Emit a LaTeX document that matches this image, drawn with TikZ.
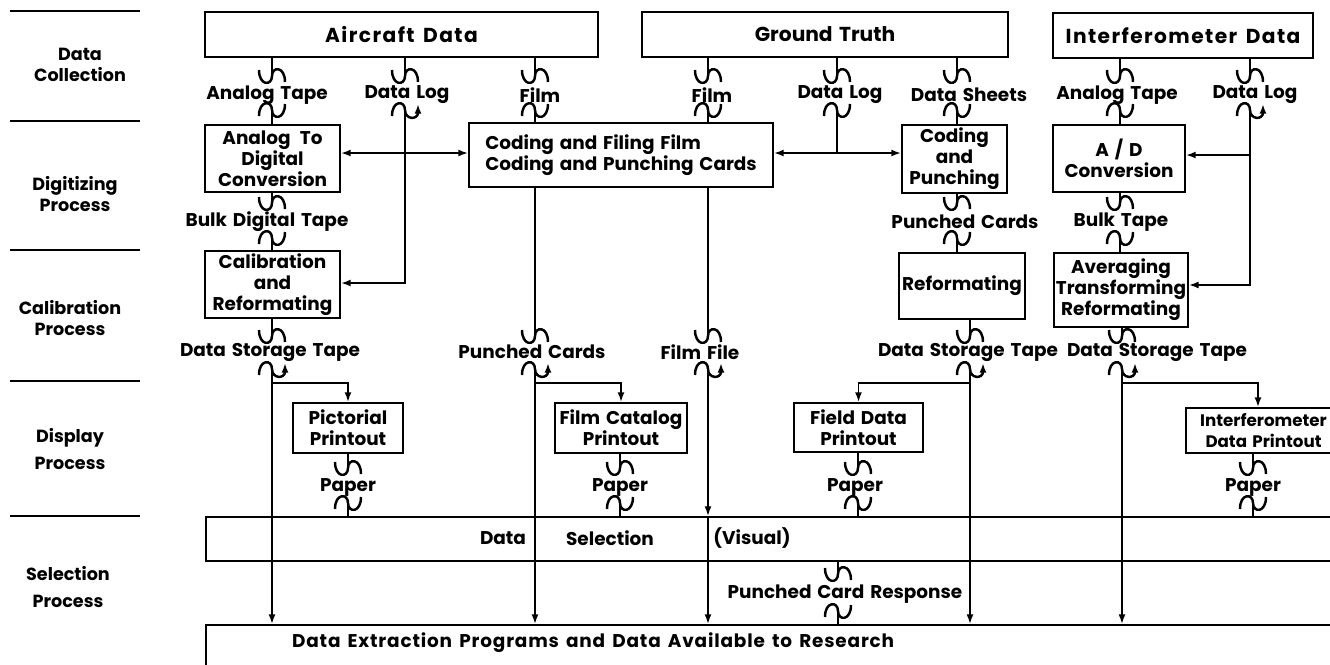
\documentclass[tikz,border=0pt]{standalone}
\usepackage{fontspec}
\setmainfont{Poppins}[WordSpace=1.5]
\usetikzlibrary{arrows.meta,positioning}
\tikzset{
  box/.style={draw, line width=1.2pt, inner sep=1pt, align=center, font=\fontsize{10.5pt}{12pt}\selectfont\bfseries},
  wide/.style={font=\fontsize{11.5pt}{13pt}\selectfont\bfseries\addfontfeature{LetterSpace=7}},
  stage/.style={align=center, font=\fontsize{10pt}{12pt}\selectfont\bfseries},
  medium/.style={inner sep=1pt, font=\fontsize{10.5pt}{12pt}\selectfont\bfseries},
  link/.style={line width=1pt},
  flow/.style={line width=1pt, -{Latex[length=5.5pt,width=4pt]}},
  both/.style={line width=1pt, {Latex[length=5.5pt,width=4pt]}-{Latex[length=5.5pt,width=4pt]}},
  rule/.style={line width=1.3pt},
  wig/.pic={\draw[line width=1.4pt] (-13,-6) .. controls (-13,10) and (0,10) .. (0,0) .. controls (0,-10) and (13,-10) .. (13,6);},
  wigb/.pic={\draw[line width=1.4pt] (-13,6) .. controls (-13,-10) and (0,-10) .. (0,0) .. controls (0,10) and (13,10) .. (13,-6);}
}

\begin{document}
\begin{tikzpicture}[x=0.02cm, y=-0.02cm]
  \useasboundingbox (0,0) rectangle (1330,664);
  \clip (0,0) rectangle (1330,664);

  % stages on the left
  \draw[rule] (10,11) -- (140,11);
  \draw[rule] (10,121) -- (140,121);
  \draw[rule] (10,250) -- (140,250);
  \draw[rule] (10,381) -- (140,381);
  \draw[rule] (10,516) -- (140,516);
  \node[stage] (st1) at (80,65) {Data\\Collection};
  \node[stage] (st2) at (75,194) {Digitizing\\Process};
  \node[stage] (st3) at (70,318) {Calibration\\Process};
  \node[stage] (st4) at (70,449) {Display\\[3pt]Process};
  \node[stage] (st5) at (68,587) {Selection\\[3pt]Process};

  % sources
  \node[box, wide, minimum width=7.86cm, minimum height=0.9cm] (aircraft) at (401.5,34.5) {Aircraft Data};
  \node[box, minimum width=7.32cm, minimum height=0.9cm, font=\fontsize{11.5pt}{13pt}\selectfont\bfseries] (ground) at (825,34.5) {Ground Truth};
  \node[box, wide, minimum width=5.2cm, minimum height=0.9cm] (interf) at (1183,35.5) {Interferometer Data};

  % digitizing
  \node[box, minimum width=2.7cm, minimum height=1.34cm] (atod) at (272.5,158.5) {Analog\enspace To\\Digital\\Conversion};
  \node[box, minimum width=6.08cm, minimum height=1.28cm, align=left] (coding) at (621,155) {Coding and Filing Film\\Coding and Punching Cards};
  \node[box, minimum width=2.1cm, minimum height=1.36cm] (punching) at (954.5,159) {Coding\\and\\Punching};
  \node[box, minimum width=2.64cm, minimum height=1.34cm] (adconv) at (1119,158.5) {A / D\\Conversion};

  % calibration
  \node[box, minimum width=2.7cm, minimum height=1.34cm] (calib) at (272.5,284.5) {Calibration\\and\\Reformating};
  \node[box, minimum width=2.52cm, minimum height=1.32cm] (reformat) at (962,286) {Reformating};
  \node[box, minimum width=2.64cm, minimum height=1.48cm] (averaging) at (1121,290) {Averaging\\Transforming\\Reformating};

  % display
  \node[box, minimum width=2.2cm, minimum height=1cm] (pictorial) at (348,428) {Pictorial\\Printout};
  \node[box, minimum width=2.64cm, minimum height=1cm] (catalog) at (621,428) {Film Catalog\\Printout};
  \node[box, minimum width=2.58cm, minimum height=0.98cm] (fieldprint) at (858.5,427.5) {Field Data\\Printout};
  \node[box, anchor=north west, minimum width=3.1cm, minimum height=0.9cm, font=\fontsize{9.5pt}{11.5pt}\selectfont\bfseries] (intprint) at (1185,407) {Interferometer\\Data Printout};

  % selection and extraction
  \node[box, anchor=north west, minimum width=22.8cm, minimum height=0.88cm] (selection) at (205,516) {};
  \node[medium] (seldata) at (503,538) {Data};
  \node[medium] (selsel) at (610,538) {Selection};
  \node[medium] (selvis) at (752,538) {(Visual)};
  \node[box, anchor=north west, minimum width=22.8cm, minimum height=1.6cm] (extract) at (205,624) {};
  \node[medium, anchor=west, font=\fontsize{10.5pt}{12pt}\selectfont\bfseries\addfontfeature{LetterSpace=4.5}] (extracttxt) at (290,643) {Data Extraction Programs and Data Available to Research};

  % media labels
  \node[medium] (mat1) at (267,95) {Analog Tape};
  \node[medium] (mdl1) at (407,95) {Data Log};
  \node[medium] (mf1) at (540,95) {Film};
  \node[medium] (mf2) at (712,95) {Film};
  \node[medium] (mdl2) at (840,95) {Data Log};
  \node[medium] (mds) at (969,95) {Data Sheets};
  \node[medium] (mat2) at (1117,95) {Analog Tape};
  \node[medium] (mdl3) at (1255,95) {Data Log};
  \node[medium] (mbdt) at (267,222) {Bulk Digital Tape};
  \node[medium] (mpc1) at (965,222) {Punched Cards};
  \node[medium] (mbt) at (1121,222) {Bulk Tape};
  \node[medium] (mdst1) at (270,352) {Data Storage Tape};
  \node[medium] (mpc2) at (532,352) {Punched Cards};
  \node[medium] (mff) at (700,352) {Film File};
  \node[medium] (mdst2) at (968,352) {Data Storage Tape};
  \node[medium] (mdst3) at (1157,352) {Data Storage Tape};
  \node[medium] (mp1) at (348,487) {Paper};
  \node[medium] (mp2) at (620,487) {Paper};
  \node[medium] (mp3) at (855,487) {Paper};
  \node[medium] (mp4) at (1253,487) {Paper};
  \node[medium] (mpcr) at (845,594) {Punched Card Response};

  % collection -> digitizing
  \draw[link] (272,0 |- aircraft.south) -- (272,76) pic{wig};
  \draw[link] (272,110) pic{wigb} -- (272,0 |- atod.north);
  \draw[link] (405,0 |- aircraft.south) -- (405,76) pic{wig};
  \draw[flow] (405,110) pic{wigb} -- (405,283) -- (calib.east |- 0,283);
  \draw[both] (atod.east |- 0,153) -- (coding.west |- 0,153);
  \draw[link] (535,0 |- aircraft.south) -- (535,76) pic{wig};
  \draw[link] (535,110) pic{wigb} -- (535,0 |- coding.north);
  \draw[link] (708,0 |- ground.south) -- (708,76) pic{wig};
  \draw[link] (708,110) pic{wigb} -- (708,0 |- coding.north);
  \draw[link] (837,0 |- ground.south) -- (837,76) pic{wig};
  \draw[link] (837,110) pic{wigb} -- (837,153);
  \draw[both] (coding.east |- 0,153) -- (punching.west |- 0,153);
  \draw[link] (957,0 |- ground.south) -- (957,76) pic{wig};
  \draw[link] (957,110) pic{wigb} -- (957,0 |- punching.north);
  \draw[link] (1120,0 |- interf.south) -- (1120,76) pic{wig};
  \draw[link] (1120,110) pic{wigb} -- (1120,0 |- adconv.north);
  \draw[link] (1250,0 |- interf.south) -- (1250,76) pic{wig};
  \draw[flow] (1250,110) pic{wigb} -- (1250,285) -- (averaging.east |- 0,285);
  \draw[flow] (1250,155) -- (adconv.east |- 0,155);

  % digitizing -> calibration
  \draw[link] (272,0 |- atod.south) -- (272,203) pic{wig};
  \draw[link] (272,238) pic{wigb} -- (272,0 |- calib.north);
  \draw[link] (957,0 |- punching.south) -- (957,203) pic{wig};
  \draw[link] (957,238) pic{wigb} -- (957,0 |- reformat.north);
  \draw[link] (1120,0 |- adconv.south) -- (1120,203) pic{wig};
  \draw[link] (1120,238) pic{wigb} -- (1120,0 |- averaging.north);

  % calibration -> display
  \draw[link] (272,0 |- calib.south) -- (272,336) pic{wig};
  \draw[flow] (272,369) pic{wigb} -- (272,0 |- extract.north);
  \draw[flow] (272,383) -| (pictorial.north);
  \draw[link] (535,0 |- coding.south) -- (535,336) pic{wig};
  \draw[flow] (535,369) pic{wigb} -- (535,0 |- extract.north);
  \draw[flow] (535,383) -| (catalog.north);
  \draw[link] (708,0 |- coding.south) -- (708,336) pic{wig};
  \draw[flow] (708,369) pic{wigb} -- (708,0 |- selection.north);
  \draw[flow] (708,0 |- selection.north) -- (708,0 |- extract.north);
  \draw[link] (970,0 |- reformat.south) -- (970,336) pic{wig};
  \draw[flow] (970,369) pic{wigb} -- (970,0 |- extract.north);
  \draw[flow] (970,383) -| (fieldprint.north);
  \draw[link] (1122,0 |- averaging.south) -- (1122,336) pic{wig};
  \draw[flow] (1122,369) pic{wigb} -- (1122,0 |- extract.north);
  \draw[flow] (1122,383) -| (1258,0 |- intprint.north);

  % display -> selection
  \draw[link] (pictorial.south) -- (348,468) pic{wig};
  \draw[link] (348,503) pic{wigb} -- (348,0 |- selection.north);
  \draw[link] (620,0 |- catalog.south) -- (620,468) pic{wig};
  \draw[link] (620,503) pic{wigb} -- (620,0 |- selection.north);
  \draw[link] (858,0 |- fieldprint.south) -- (858,468) pic{wig};
  \draw[link] (858,503) pic{wigb} -- (858,0 |- selection.north);
  \draw[link] (1253,0 |- intprint.south) -- (1253,468) pic{wig};
  \draw[link] (1253,503) pic{wigb} -- (1253,0 |- selection.north);

  % selection -> extraction
  \draw[link] (838,0 |- selection.south) -- (838,574) pic{wig};
  \draw[link] (838,611) pic{wigb} -- (838,0 |- extract.north);
\end{tikzpicture}
\end{document}
